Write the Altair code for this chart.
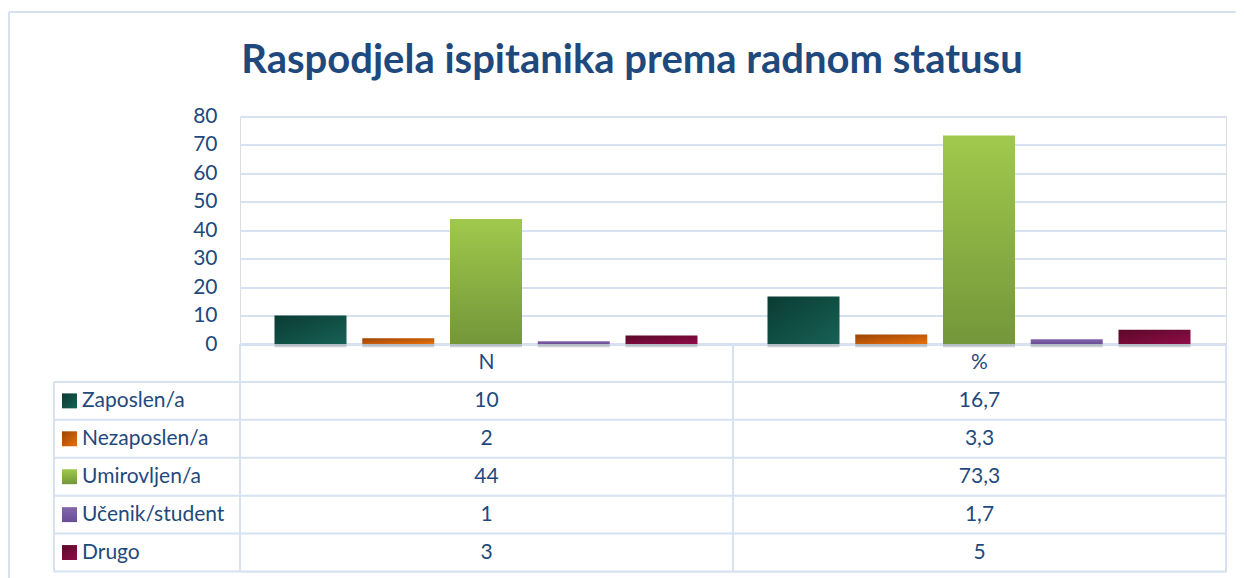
import altair as alt
import pandas as pd

# ---- data ----
title_text = "Raspodjela ispitanika prema radnom statusu"
categories = ["Zaposlen/a", "Nezaposlen/a", "Umirovljen/a", "Učenik/student", "Drugo"]
n_values = [10, 2, 44, 1, 3]
pct_values = [16.7, 3.3, 73.3, 1.7, 5]
n_labels = ["10", "2", "44", "1", "3"]
pct_labels = ["16,7", "3,3", "73,3", "1,7", "5"]
group_labels = ["N", "%"]
y_ticks = [0, 10, 20, 30, 40, 50, 60, 70, 80]
grad_start = ["#0A3B33", "#9C4405", "#A0C94C", "#8466AD", "#5A0929"]
grad_end = ["#176155", "#E8700C", "#74963A", "#6A4C94", "#900C48"]
grad_dir = ["diag", "diag", "vert", "vert", "diag"]

TEXT = "#1F497D"
LINE = "#D6E2F2"
FONT = "Lato"

# ---- layout constants (group units: one group = 493 px) ----
GW = 493.0
ROW = 80.0 / 6.0
LEFT = -186.0 / GW

rows = []
for gi, vals in enumerate([n_values, pct_values]):
    for ci, c in enumerate(categories):
        x0 = gi + (34.5 + ci * 87.75) / GW
        rows.append({"cat": c, "group": group_labels[gi], "value": vals[ci],
                     "x0": x0, "x1": x0 + 72.0 / GW, "zero": 0.0,
                     "sh": -1.1})
bars = pd.DataFrame(rows)

labels = pd.DataFrame({
    "cat": categories,
    "yc": [-(i + 1.5) * ROW for i in range(len(categories))],
})
labels["xt"] = -158.0 / GW
labels["sx0"] = -178.0 / GW
labels["sx1"] = -163.0 / GW
labels["sy0"] = labels["yc"] - 7.5 / 2.85
labels["sy1"] = labels["yc"] + 7.5 / 2.85

vals_rows = []
for gi, lab in enumerate([n_labels, pct_labels]):
    for ci, t in enumerate(lab):
        vals_rows.append({"x": gi + 0.5, "y": -(ci + 1.5) * ROW, "t": t})
vals_df = pd.DataFrame(vals_rows)
head_df = pd.DataFrame({"x": [0.5, 1.5], "y": [-ROW / 2] * 2, "t": group_labels})

hlines = pd.DataFrame(
    [{"x": 0.0, "x2": 2.0, "y": 0.0}] +
    [{"x": LEFT, "x2": 2.0, "y": -(k + 1) * ROW} for k in range(6)])
vlines = pd.DataFrame(
    [{"x": LEFT, "y": -ROW, "y2": -80.0}] +
    [{"x": float(v), "y": 0.0, "y2": -80.0} for v in (0, 1, 2)])

xs = alt.Scale(domain=[0, 2], nice=False, zero=False, padding=0)
ys = alt.Scale(domain=[-80, 80], nice=False, zero=False, padding=0)


def grad(i):
    if grad_dir[i] == "vert":
        x1, y1, x2, y2 = 0, 0, 0, 1
    else:
        x1, y1, x2, y2 = 0, 0, 1, 1
    return alt.Gradient(gradient="linear",
                        stops=[alt.GradientStop(color=grad_start[i], offset=0),
                               alt.GradientStop(color=grad_end[i], offset=1)],
                        x1=x1, y1=y1, x2=x2, y2=y2)


base_axis = alt.Chart(bars).mark_point(opacity=0).encode(
    x=alt.X("x0:Q", scale=xs, axis=None),
    y=alt.Y("value:Q", scale=ys,
            axis=alt.Axis(values=y_ticks, grid=True, gridColor=LINE, gridWidth=2,
                          domain=False, ticks=False, labelFontSize=21,
                          labelColor=TEXT, labelFont=FONT, labelPadding=23,
                          title=None)),
)

one = alt.Chart(pd.DataFrame({"a": [0]}))
frame_top = one.mark_rule(color=LINE, strokeWidth=2).encode(
    x=alt.value(-231), x2=alt.value(1000), y=alt.value(-104.5))
frame_left = one.mark_rule(color=LINE, strokeWidth=2).encode(
    x=alt.value(-231), y=alt.value(-104.5), y2=alt.value(470))
title_mark = one.mark_text(
    text=title_text, font=FONT, fontSize=40, fontWeight="bold", color=TEXT,
    align="center", baseline="alphabetic").encode(
    x=alt.value(392), y=alt.value(-44))

hl = alt.Chart(hlines).mark_rule(color=LINE, strokeWidth=2).encode(
    x=alt.X("x:Q", scale=xs, axis=None), x2="x2:Q", y=alt.Y("y:Q", scale=ys))
vl = alt.Chart(vlines).mark_rule(color=LINE, strokeWidth=2).encode(
    x=alt.X("x:Q", scale=xs, axis=None), y=alt.Y("y:Q", scale=ys), y2="y2:Q")

shadow = alt.Chart(bars).mark_rect(color="#7a7a7a", opacity=0.35).encode(
    x=alt.X("x0:Q", scale=xs, axis=None), x2="x1:Q",
    y=alt.Y("zero:Q", scale=ys), y2="sh:Q")

layers = [base_axis, frame_top, frame_left, title_mark, hl, vl, shadow]
for i, c in enumerate(categories):
    layers.append(
        alt.Chart(bars).transform_filter(alt.datum.cat == c)
        .mark_rect(fill=grad(i)).encode(
            x=alt.X("x0:Q", scale=xs, axis=None), x2="x1:Q",
            y=alt.Y("value:Q", scale=ys), y2="zero:Q"))
    layers.append(
        alt.Chart(labels).transform_filter(alt.datum.cat == c)
        .mark_rect(fill=grad(i)).encode(
            x=alt.X("sx0:Q", scale=xs, axis=None), x2="sx1:Q",
            y=alt.Y("sy0:Q", scale=ys), y2="sy1:Q"))

cat_text = alt.Chart(labels).mark_text(
    align="left", baseline="middle", font=FONT, fontSize=21, color=TEXT).encode(
    x=alt.X("xt:Q", scale=xs, axis=None), y=alt.Y("yc:Q", scale=ys), text="cat:N")
val_text = alt.Chart(vals_df).mark_text(
    align="center", baseline="middle", font=FONT, fontSize=21, color=TEXT).encode(
    x=alt.X("x:Q", scale=xs, axis=None), y=alt.Y("y:Q", scale=ys), text="t:N")
head_text = alt.Chart(head_df).mark_text(
    align="center", baseline="middle", font=FONT, fontSize=21, color=TEXT).encode(
    x=alt.X("x:Q", scale=xs, axis=None), y=alt.Y("y:Q", scale=ys), text="t:N")

layers += [cat_text, val_text, head_text]

chart = alt.layer(*layers).properties(
    width=986, height=455,
    padding={"left": 232, "top": 108.5, "right": 10, "bottom": 6},
    autosize=alt.AutoSizeParams(type="none"),
).configure_view(stroke=None).configure(background="white")

chart.save("out.html", embed_options={"renderer": "svg", "actions": False})
